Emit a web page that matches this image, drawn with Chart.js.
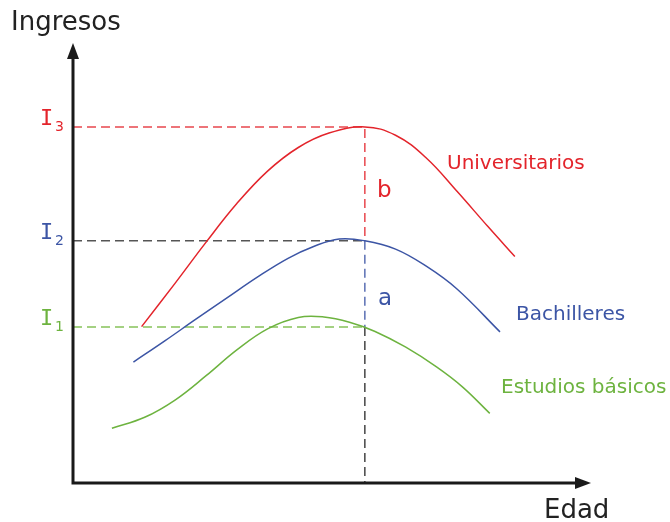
<!DOCTYPE html>
<html>
<head>
<meta charset="utf-8">
<script src="https://cdn.jsdelivr.net/npm/chart.js@4"></script>
<style>
  body { margin: 0; background: #fff; }
  canvas { display: block; }
</style>
</head>
<body>
<canvas id="grafica" width="670" height="522"></canvas>
<script>
// curvas de ingresos segun la edad (unidades arbitrarias 0-100)
const edadUni = [13.4, 20, 26, 32, 38, 44, 50, 57, 63, 69, 75, 81, 86.3];
const ingUni  = [35.7, 45.7, 55.0, 63.8, 71.2, 76.6, 79.9, 81.3, 79.4, 74.2, 66.6, 58.6, 51.7];

const edadBach = [11.8, 18, 24, 30, 36, 42, 47, 52, 57, 63, 69, 75, 83.4];
const ingBach  = [27.6, 32.5, 37.4, 42.2, 47.0, 51.3, 54.0, 55.7, 55.3, 53.4, 49.5, 44.3, 34.5];

const edadBas = [7.6, 14, 20, 26, 32, 38, 44, 49, 54, 59, 65, 71, 76, 81.4];
const ingBas  = [12.5, 15.0, 19.0, 24.5, 30.4, 35.2, 37.8, 37.9, 36.7, 34.6, 31.0, 26.5, 22.0, 15.9];

// edad de referencia y niveles I1, I2, I3
const edadRef = 57;
const niveles = [35.6, 55.3, 81.3];
const subindices = ['1', '2', '3'];

const rojo = '#e3242b';
const azul = '#3c55a5';
const verde = '#6db33f';
const colorNivel = [verde, azul, rojo];

const puntos = (xs, ys) => xs.map((v, i) => ({x: v, y: ys[i]}));

const curva = (datos, color) => ({
  data: datos,
  borderColor: color,
  borderWidth: 1.5,
  pointRadius: 0,
  tension: 0.4,
  fill: false
});

const guia = (datos, color) => ({
  data: datos,
  borderColor: color,
  borderWidth: 1.5,
  borderDash: [9, 5],
  pointRadius: 0,
  fill: false
});

// ejes con flechas y todos los textos
const ejes = {
  id: 'ejes',
  afterDatasetsDraw(chart) {
    const {ctx, chartArea: a, scales: {x, y}} = chart;
    const x0 = x.getPixelForValue(0);
    const y0 = y.getPixelForValue(0);
    ctx.save();
    ctx.strokeStyle = '#1a1a1a';
    ctx.fillStyle = '#1a1a1a';
    ctx.lineWidth = 3;
    ctx.beginPath();
    ctx.moveTo(x0, a.top + 10);
    ctx.lineTo(x0, y0);
    ctx.lineTo(a.right - 4, y0);
    ctx.stroke();
    ctx.beginPath();
    ctx.moveTo(x0, a.top - 2);
    ctx.lineTo(x0 - 6, a.top + 14);
    ctx.lineTo(x0 + 6, a.top + 14);
    ctx.closePath();
    ctx.fill();
    ctx.beginPath();
    ctx.moveTo(a.right + 6, y0);
    ctx.lineTo(a.right - 10, y0 - 6);
    ctx.lineTo(a.right - 10, y0 + 6);
    ctx.closePath();
    ctx.fill();

    ctx.textBaseline = 'alphabetic';
    ctx.font = '26px "DejaVu Sans"';
    ctx.fillStyle = '#222';
    ctx.fillText('Ingresos', 11, 30);
    ctx.fillText('Edad', 544, 518);

    niveles.forEach((v, i) => {
      const py = y.getPixelForValue(v);
      ctx.fillStyle = colorNivel[i];
      ctx.font = '22px "DejaVu Sans Mono"';
      ctx.fillText('I', 40, py - 2);
      ctx.font = '14px "DejaVu Sans"';
      ctx.fillText(subindices[i], 55, py + 4);
    });

    ctx.font = '20px "DejaVu Sans"';
    ctx.fillStyle = rojo;
    ctx.fillText('Universitarios', 447, 169);
    ctx.fillStyle = azul;
    ctx.fillText('Bachilleres', 516, 320);
    ctx.fillStyle = verde;
    ctx.fillText('Estudios básicos', 501, 393);

    ctx.font = '23px "DejaVu Sans"';
    ctx.fillStyle = rojo;
    ctx.fillText('b', 377, 197);
    ctx.fillStyle = azul;
    ctx.fillText('a', 378, 305);
    ctx.restore();
  }
};

new Chart(document.getElementById('grafica'), {
  type: 'line',
  data: {
    datasets: [
      curva(puntos(edadUni, ingUni), rojo),
      curva(puntos(edadBach, ingBach), azul),
      curva(puntos(edadBas, ingBas), verde),
      guia([{x: 0, y: niveles[2]}, {x: edadRef, y: niveles[2]}, {x: edadRef, y: niveles[1]}], '#e8474d'),
      guia([{x: 0, y: niveles[1]}, {x: edadRef, y: niveles[1]}], '#555'),
      guia([{x: edadRef, y: niveles[1]}, {x: edadRef, y: niveles[0]}], '#5a6fb3'),
      guia([{x: 0, y: niveles[0]}, {x: edadRef, y: niveles[0]}], '#86c25a'),
      guia([{x: edadRef, y: niveles[0]}, {x: edadRef, y: 0}], '#444')
    ]
  },
  options: {
    responsive: false,
    animation: false,
    layout: { padding: { left: 73, right: 85, top: 45, bottom: 39 } },
    scales: {
      x: { type: 'linear', min: 0, max: 100, display: false },
      y: { type: 'linear', min: 0, max: 100, display: false }
    },
    plugins: {
      legend: { display: false },
      tooltip: { enabled: false }
    }
  },
  plugins: [ejes]
});
</script>
</body>
</html>
